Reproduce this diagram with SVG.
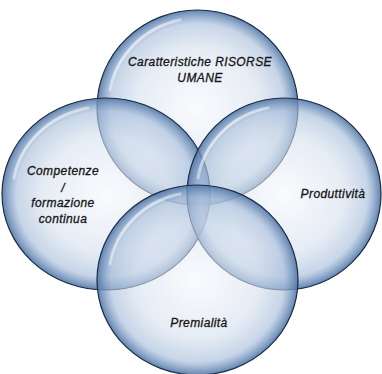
<svg xmlns="http://www.w3.org/2000/svg" width="382" height="374" viewBox="0 0 382 374">
<defs>
<radialGradient id="g" cx="50%" cy="50%" r="50%">
<stop offset="0%" stop-color="#f4f7fb" stop-opacity="0.55"/>
<stop offset="60%" stop-color="#d6e0ee" stop-opacity="0.6"/>
<stop offset="86%" stop-color="#a9bfdb" stop-opacity="0.65"/>
<stop offset="100%" stop-color="#4f76a8" stop-opacity="0.9"/>
</radialGradient>
<linearGradient id="hl" x1="0" y1="0" x2="1" y2="1">
<stop offset="0%" stop-color="#ffffff" stop-opacity="0.9"/>
<stop offset="100%" stop-color="#ffffff" stop-opacity="0"/>
</linearGradient>
</defs>
<style>
.c{fill:url(#g);stroke:#1e2c40;stroke-width:1.2}
.h{fill:none;stroke:url(#hl);stroke-width:3;stroke-linecap:round}
.t{font-family:"Liberation Sans",Arial,sans-serif;font-style:italic;font-size:12px;fill:#151515;stroke:#151515;stroke-width:0.3;text-anchor:middle;letter-spacing:0.4px}
</style>
<rect width="382" height="374" fill="#ffffff"/>
<g id="top">
<ellipse class="c" cx="197.5" cy="107.5" rx="100.5" ry="97.5"/>
<path class="h" d="M110 90 A90 88 0 0 1 180 20"/>
<text class="t" x="200" y="66">Caratteristiche RISORSE</text>
<text class="t" x="200" y="82">UMANE</text>
</g>
<g id="left">
<ellipse class="c" cx="106" cy="194" rx="104" ry="96"/>
<path class="h" d="M14 178 A94 86 0 0 1 88 108"/>
<text class="t" x="63" y="175">Competenze</text>
<text class="t" x="63" y="192">/</text>
<text class="t" x="63" y="207">formazione</text>
<text class="t" x="63" y="223">continua</text>
</g>
<g id="right">
<ellipse class="c" cx="284" cy="194" rx="97" ry="96"/>
<path class="h" d="M198 178 A88 86 0 0 1 268 108"/>
<text class="t" x="333" y="198">Produttività</text>
</g>
<g id="bottom">
<ellipse class="c" cx="197.5" cy="280" rx="100.5" ry="95"/>
<path class="h" d="M110 264 A90 86 0 0 1 180 194"/>
<text class="t" x="199" y="327">Premialità</text>
</g>
</svg>
